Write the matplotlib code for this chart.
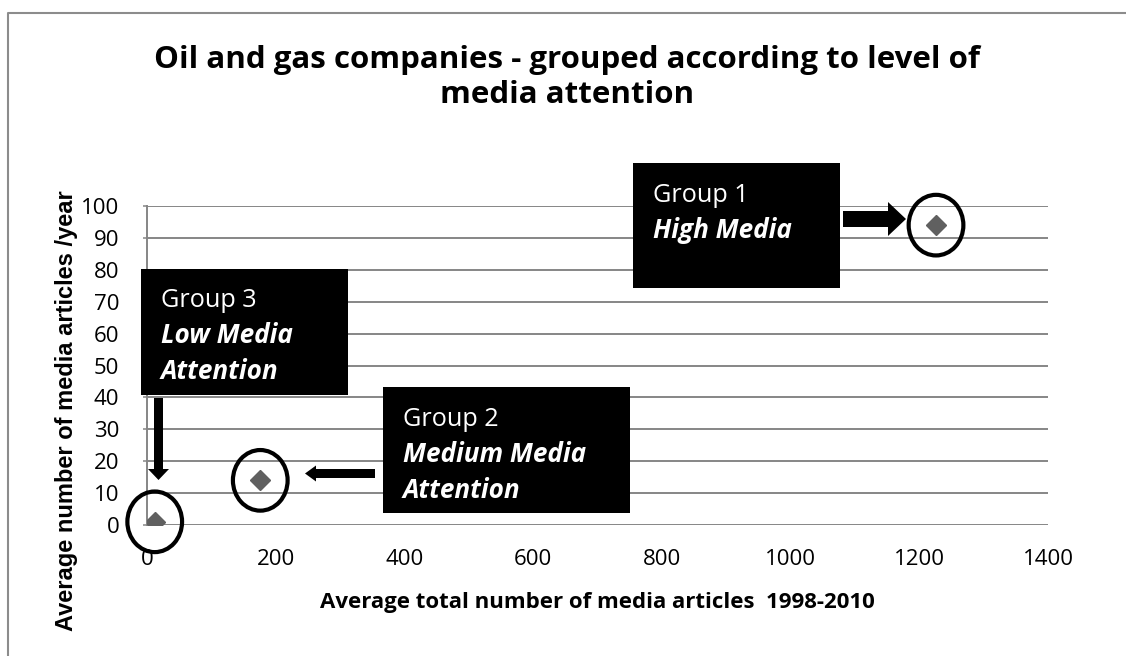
import matplotlib

matplotlib.use("Agg")
import matplotlib.pyplot as plt
from matplotlib.lines import Line2D
from matplotlib.patches import Ellipse, FancyArrow, Rectangle
from matplotlib.transforms import Affine2D

W, H = 1126, 656
FONT = "Open Sans"

# media attention per company group
group_names = ["Group 1", "Group 2", "Group 3"]
group_levels = [["High Media"], ["Medium Media", "Attention"], ["Low Media", "Attention"]]
avg_total_articles = [1226, 176, 12]
avg_articles_per_year = [94, 14, 1]

x_ticks = [0, 200, 400, 600, 800, 1000, 1200, 1400]
y_ticks = [0, 10, 20, 30, 40, 50, 60, 70, 80, 90, 100]

title_lines = [
    "Oil and gas companies - grouped according to level of",
    "media attention",
]
x_label = "Average total number of media articles  1998-2010"
y_label = "Average number of media articles /year"

GRID = "#868686"
MARKER = "#606060"

# label boxes in pixel units from the top-left corner:
# (left, top, right, bottom), first text baseline, arrow (x, y, dx, dy, width, head_w, head_len)
box_layout = [
    ((633, 163, 840, 288), 202, (843, 219, 63, 0, 16, 34, 18)),
    ((383, 387, 630, 513), 426, (375, 473.5, -70, 0, 9, 16, 11)),
    ((141, 269, 348, 395), 307, (158.5, 398, 0, 82, 9, 21, 11)),
]
text_left_pad = 20
line_step = 36

plt.rcParams["font.family"] = [FONT, "DejaVu Sans"]

fig = plt.figure(figsize=(W / 100, H / 100), dpi=100)
ax = fig.add_axes([147 / W, 1 - 525 / H, (1048 - 147) / W, (525 - 206) / H])
top_px = Affine2D().scale(1 / W, -1 / H).translate(0, 1) + fig.transFigure

ax.set_xlim(0, 1400)
ax.set_ylim(0, 100)
ax.set_xticks(x_ticks)
ax.set_yticks(y_ticks)
ax.tick_params(axis="x", length=0, pad=17, labelsize=16)
ax.tick_params(axis="y", length=3, color=GRID, width=1.1, pad=17, labelsize=16)
ax.yaxis.grid(True, color=GRID, linewidth=1.4)
ax.set_axisbelow(True)
for side in ["top", "right", "bottom"]:
    ax.spines[side].set_visible(False)
ax.spines["left"].set_color(GRID)
ax.spines["left"].set_linewidth(1.4)

ax.plot(
    avg_total_articles,
    avg_articles_per_year,
    linestyle="none",
    marker="D",
    markersize=10,
    color=MARKER,
    zorder=3,
)

# ring each group's point
for gx, gy in zip(avg_total_articles, avg_articles_per_year):
    ax.add_patch(
        Ellipse(
            (gx, gy),
            width=85,
            height=19,
            facecolor="none",
            edgecolor="black",
            linewidth=3,
            clip_on=False,
            zorder=4,
        )
    )

for name, levels, (box, baseline, arrow) in zip(group_names, group_levels, box_layout):
    left, top, right, bottom = box
    fig.add_artist(
        Rectangle(
            (left, top),
            right - left,
            bottom - top,
            transform=top_px,
            facecolor="black",
            edgecolor="none",
        )
    )
    fig.text(
        left + text_left_pad,
        baseline,
        name,
        transform=top_px,
        color="white",
        fontsize=18.2,
        va="baseline",
    )
    for i, level in enumerate(levels):
        fig.text(
            left + text_left_pad,
            baseline + line_step * (i + 1),
            level,
            transform=top_px,
            color="white",
            fontsize=18.8,
            fontweight="bold",
            fontstyle="italic",
            va="baseline",
        )
    x0, y0, dx, dy, width, head_w, head_len = arrow
    fig.add_artist(
        FancyArrow(
            x0,
            y0,
            dx,
            dy,
            width=width,
            head_width=head_w,
            head_length=head_len,
            length_includes_head=True,
            transform=top_px,
            facecolor="black",
            edgecolor="none",
        )
    )

for i, line in enumerate(title_lines):
    fig.text(
        567,
        68 + 35 * i,
        line,
        transform=top_px,
        ha="center",
        va="baseline",
        fontsize=22.5,
        fontweight="bold",
    )

fig.text(597, 608, x_label, transform=top_px, ha="center", va="baseline",
         fontsize=16, fontweight="bold")
fig.text(67, 411, y_label, transform=top_px, ha="center", va="center",
         rotation=90, fontsize=17, fontweight="bold",
         family=["Liberation Sans", "DejaVu Sans"])

# chart frame, only the left and top edges fall inside the image
fig.add_artist(Line2D([8, 8, W + 10], [H + 10, 13, 13], transform=top_px,
                      color="#8c8c8c", linewidth=1.5))

fig.savefig("out.png", dpi=100)
